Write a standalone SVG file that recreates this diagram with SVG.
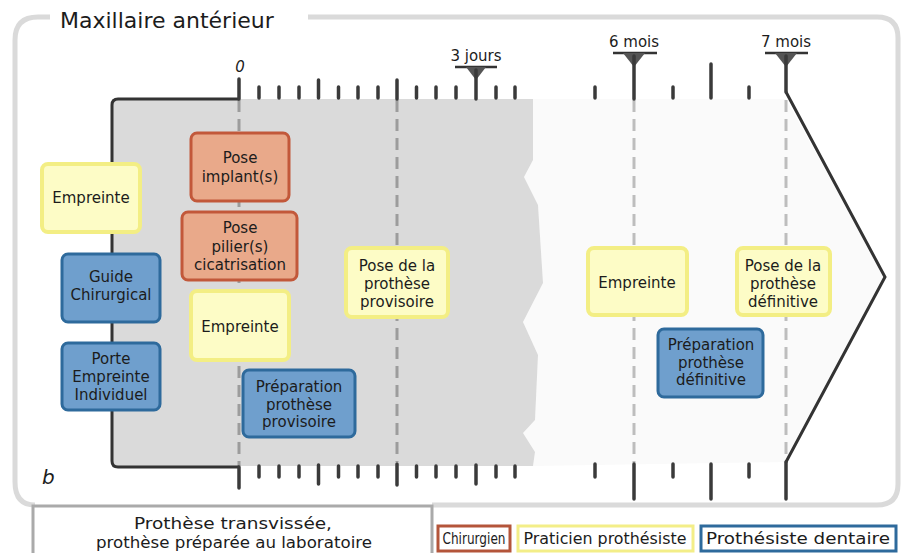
<svg xmlns="http://www.w3.org/2000/svg" width="902" height="553" viewBox="0 0 902 553">
<style>
text{font-family:"DejaVu Sans","Liberation Sans",sans-serif;fill:#1c1c1c}
.n{font-size:15px;text-anchor:middle}
.y{fill:#fdfcc6;stroke:#f3ee84;stroke-width:4}
.o{fill:#e9a98a;stroke:#c2583a;stroke-width:3}
.b{fill:#6f9fcd;stroke:#2e6a9c;stroke-width:3}
.tk{stroke:#3a3a3a;stroke-width:3.5;stroke-linecap:round}
.dg{stroke:#9c9c9c;stroke-width:3;stroke-dasharray:12 7;fill:none}
.dl{stroke:#bdbdbd;stroke-width:3;stroke-dasharray:12 7;fill:none}
.fr{stroke:#333;stroke-width:3;fill:none}
.mk{stroke:#333;stroke-width:2.5}
.lab{font-size:15px;text-anchor:middle}
</style>
<rect width="902" height="553" fill="#fff"/>
<!-- outer frame -->
<g id="frame">
<path d="M50 17 L38 17 Q15 17 15 40 L15 482 Q15 505 35 505" stroke="#dadada" stroke-width="5" fill="none"/>
<path d="M308 17 L877 17 Q898 17 898 38 L898 484 Q898 505 877 505 L432 505" stroke="#dadada" stroke-width="5" fill="none"/>
<text x="60" y="28" font-size="22">Maxillaire antérieur</text>
<text x="42" y="484" font-size="20" font-style="italic">b</text>
</g>
<!-- backgrounds -->
<polygon points="533,99 786,99 885,277 786,462 533,466 535,452 523,433 535,420 538,355 523,322 543,283 538,205 524,177 533,160" fill="#fafafa"/>
<polygon points="112,99 533,99 533,160 524,177 538,205 543,283 523,322 538,355 535,420 523,433 535,452 533,466 112,466" fill="#dadada"/>
<!-- connectors / timeline -->
<g id="connectors">
<line class="dg" x1="239" y1="100" x2="239" y2="466"/>
<line class="dg" x1="397" y1="100" x2="397" y2="462"/>
<line class="dl" x1="634" y1="100" x2="634" y2="463"/>
<line class="dl" x1="786" y1="100" x2="786" y2="463"/>
<path class="fr" d="M239 99 L118 99 Q112 99 112 105 L112 461 Q112 467 118 467 L239 467"/>
<path d="M786 92 L885 277 L786 462" stroke="#333" stroke-width="3" fill="none" stroke-linejoin="miter"/>
<!-- top ticks left -->
<line class="tk" x1="239" y1="79" x2="239" y2="99"/>
<line class="tk" x1="259" y1="87" x2="259" y2="98"/>
<line class="tk" x1="279" y1="87" x2="279" y2="98"/>
<line class="tk" x1="299" y1="87" x2="299" y2="98"/>
<line class="tk" x1="318.5" y1="80" x2="318.5" y2="98"/>
<line class="tk" x1="338.5" y1="87" x2="338.5" y2="98"/>
<line class="tk" x1="358" y1="87" x2="358" y2="98"/>
<line class="tk" x1="378" y1="87" x2="378" y2="98"/>
<line class="tk" x1="397" y1="80" x2="397" y2="99"/>
<line class="tk" x1="416.5" y1="87" x2="416.5" y2="98"/>
<line class="tk" x1="436" y1="87" x2="436" y2="98"/>
<line class="tk" x1="456" y1="87" x2="456" y2="98"/>
<line class="tk" x1="496" y1="87" x2="496" y2="98"/>
<line class="tk" x1="515" y1="87" x2="515" y2="98"/>
<!-- bottom ticks left -->
<line class="tk" x1="239" y1="467" x2="239" y2="488"/>
<line class="tk" x1="259" y1="466" x2="259" y2="477"/>
<line class="tk" x1="279" y1="466" x2="279" y2="477"/>
<line class="tk" x1="299" y1="466" x2="299" y2="477"/>
<line class="tk" x1="318.5" y1="465" x2="318.5" y2="484"/>
<line class="tk" x1="338.5" y1="466" x2="338.5" y2="477"/>
<line class="tk" x1="358" y1="466" x2="358" y2="477"/>
<line class="tk" x1="378" y1="466" x2="378" y2="477"/>
<line class="tk" x1="397" y1="464" x2="397" y2="485"/>
<line class="tk" x1="416.5" y1="466" x2="416.5" y2="477"/>
<line class="tk" x1="436" y1="466" x2="436" y2="477"/>
<line class="tk" x1="456" y1="466" x2="456" y2="477"/>
<line class="tk" x1="476" y1="465" x2="476" y2="484"/>
<line class="tk" x1="496" y1="466" x2="496" y2="477"/>
<line class="tk" x1="515" y1="466" x2="515" y2="477"/>
<!-- right ticks top -->
<line class="tk" x1="595" y1="87" x2="595" y2="98"/>
<line class="tk" x1="673" y1="87" x2="673" y2="98"/>
<line class="tk" x1="711" y1="64" x2="711" y2="98"/>
<line class="tk" x1="749" y1="87" x2="749" y2="98"/>
<!-- right ticks bottom -->
<line class="tk" x1="595" y1="464" x2="595" y2="477"/>
<line class="tk" x1="634" y1="464" x2="634" y2="499"/>
<line class="tk" x1="673" y1="464" x2="673" y2="477"/>
<line class="tk" x1="711" y1="464" x2="711" y2="499"/>
<line class="tk" x1="749" y1="464" x2="749" y2="477"/>
<line class="tk" x1="786" y1="462" x2="786" y2="499"/>
<!-- markers -->
<line class="mk" x1="455" y1="67" x2="497" y2="67"/>
<polygon points="466,67 486,67 476,80" fill="#555"/>
<line class="tk" x1="476" y1="70" x2="476" y2="99"/>
<line class="mk" x1="613" y1="53" x2="657" y2="53"/>
<polygon points="623,53 645,53 634,67" fill="#555"/>
<line class="tk" x1="634" y1="56" x2="634" y2="99"/>
<line class="mk" x1="765" y1="53" x2="808" y2="53"/>
<polygon points="775,53 797,53 786,67" fill="#555"/>
<line class="tk" x1="786" y1="56" x2="786" y2="92"/>
<text class="lab" x="240" y="72" font-style="italic" font-size="15">0</text>
<text class="lab" x="476" y="61">3 jours</text>
<text class="lab" x="634" y="47">6 mois</text>
<text class="lab" x="786" y="47">7 mois</text>
</g>
<!-- nodes -->
<g id="n-empreinte1"><rect class="y" x="42" y="164" width="98" height="68" rx="6"/><text class="n" x="91" y="203">Empreinte</text></g>
<g id="n-guide"><rect class="b" x="62" y="254" width="98" height="68" rx="6"/><text class="n" x="111" y="282">Guide</text><text class="n" x="111" y="300">Chirurgical</text></g>
<g id="n-porte"><rect class="b" x="62" y="343" width="98" height="67" rx="6"/><text class="n" x="111" y="364">Porte</text><text class="n" x="111" y="382">Empreinte</text><text class="n" x="111" y="400">Individuel</text></g>
<g id="n-implant"><rect class="o" x="191" y="133" width="98" height="68" rx="6"/><text class="n" x="240" y="163">Pose</text><text class="n" x="240" y="182">implant(s)</text></g>
<g id="n-pilier"><rect class="o" x="182" y="212" width="115" height="68" rx="6"/><text class="n" x="240" y="233">Pose</text><text class="n" x="240" y="252">pilier(s)</text><text class="n" x="240" y="270">cicatrisation</text></g>
<g id="n-empreinte2"><rect class="y" x="191" y="291" width="98" height="69" rx="6"/><text class="n" x="240" y="332">Empreinte</text></g>
<g id="n-prep-prov"><rect class="b" x="243" y="370" width="112" height="67" rx="6"/><text class="n" x="299" y="392">Préparation</text><text class="n" x="299" y="410">prothèse</text><text class="n" x="299" y="427">provisoire</text></g>
<g id="n-pose-prov"><rect class="y" x="346" y="248" width="102" height="69" rx="6"/><text class="n" x="397" y="271">Pose de la</text><text class="n" x="397" y="289">prothèse</text><text class="n" x="397" y="307">provisoire</text></g>
<g id="n-empreinte3"><rect class="y" x="588" y="248" width="99" height="67" rx="6"/><text class="n" x="637" y="288">Empreinte</text></g>
<g id="n-pose-def"><rect class="y" x="737" y="248" width="93" height="67" rx="6"/><text class="n" x="783" y="271">Pose de la</text><text class="n" x="783" y="289">prothèse</text><text class="n" x="783" y="307">définitive</text></g>
<g id="n-prep-def"><rect class="b" x="658" y="329" width="105" height="68" rx="6"/><text class="n" x="711" y="350">Préparation</text><text class="n" x="711" y="368">prothèse</text><text class="n" x="711" y="385">définitive</text></g>
<!-- legend -->
<g id="legend">
<rect x="33" y="506" width="399" height="52" fill="#fff" stroke="#aaa" stroke-width="3"/>
<text x="233" y="529" font-size="15" text-anchor="middle" textLength="198" lengthAdjust="spacingAndGlyphs">Prothèse transvissée,</text>
<text x="234" y="548" font-size="15" text-anchor="middle" textLength="276" lengthAdjust="spacingAndGlyphs">prothèse préparée au laboratoire</text>
<rect x="438" y="526" width="72" height="25" fill="#fff" stroke="#b4553a" stroke-width="3"/>
<text x="474" y="544" font-size="15" text-anchor="middle" textLength="63" lengthAdjust="spacingAndGlyphs">Chirurgien</text>
<rect x="518" y="526" width="175" height="25" fill="#fff" stroke="#f3ee88" stroke-width="3"/>
<text x="605" y="544" font-size="15" text-anchor="middle" textLength="163" lengthAdjust="spacingAndGlyphs">Praticien prothésiste</text>
<rect x="701" y="526" width="195" height="25" fill="#fff" stroke="#2e6a9c" stroke-width="3"/>
<text x="798" y="544" font-size="15" text-anchor="middle" textLength="184" lengthAdjust="spacingAndGlyphs">Prothésiste dentaire</text>
</g>
</svg>
